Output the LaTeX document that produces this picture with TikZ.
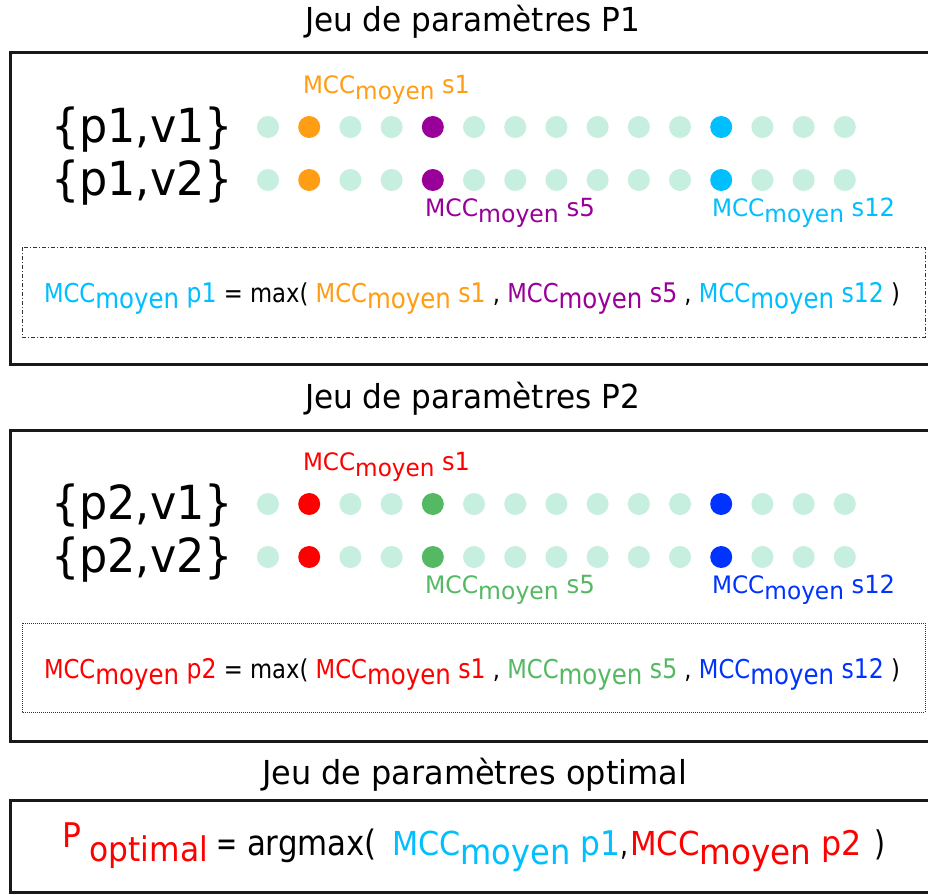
\documentclass[tikz,border=0pt]{standalone}
\usepackage{fontspec}
\setmainfont{DejaVu Sans}
\usepackage{graphicx}
\definecolor{mint}{RGB}{198,239,224}
\definecolor{orng}{RGB}{255,157,20}
\definecolor{purp}{RGB}{153,0,153}
\definecolor{lblue}{RGB}{0,191,255}
\definecolor{rd}{RGB}{255,0,0}
\definecolor{grn}{RGB}{85,185,100}
\definecolor{dblue}{RGB}{0,51,255}
\newcommand\fs[1]{\fontsize{#1}{#1}\selectfont}
\newcommand\mccx[5]{{\fs{#1}MCC}\raisebox{-#3pt}{\fs{#2}moyen}{\fs{#5}\ #4}}
\newcommand\fit[2]{\resizebox{#1pt}{\height}{#2}}
\tikzset{
  txt/.style={anchor=base west, inner sep=0pt, outer sep=0pt},
  dotnode/.style={circle, inner sep=0pt, minimum size=22pt, fill=#1},
  outerbox/.style={draw=black!90, line width=3pt},
  dashdotbox/.style={draw=black!80, line width=1pt, dash pattern=on 4pt off 2pt on 1pt off 2pt},
  dotbox/.style={draw=black!80, line width=1pt, dash pattern=on 1pt off 1pt},
}
\newcommand\dotrow[5]{%
  \foreach \i/\c in {0/mint,1/#3,2/mint,3/mint,4/#4,5/mint,6/mint,7/mint,8/mint,9/mint,10/mint,11/#5,12/mint,13/mint,14/mint}{%
    \node[dotnode=\c] (#1-\i) at ({268+41.2*\i},#2) {};
  }%
}
\begin{document}
\begin{tikzpicture}[x=1pt,y=-1pt]
\useasboundingbox (0,0) rectangle (928,894);
\clip (0,0) rectangle (928,894);
\fill[white] (0,0) rectangle (928,894);

% ---------- Box P1
\node[txt] (t1) at (305,31) {\fit{335}{\fs{33}Jeu de paramètres P1}};
\draw[outerbox] (10,52) rectangle (945,364);
\node[txt] (r11) at (51,142) {\fit{182}{\fs{47}\{p1,v1\}}};
\node[txt] (r12) at (51,195) {\fit{182}{\fs{47}\{p1,v2\}}};
\dotrow{a}{127}{orng}{purp}{lblue}
\dotrow{b}{180}{orng}{purp}{lblue}
\node[txt, text=orng] (la1) at (303,93) {\fit{167}{\mccx{24}{24}{6}{s1}{25}}};
\node[txt, text=purp] (la5) at (425,216) {\fit{170}{\mccx{24}{24}{6}{s5}{25}}};
\node[txt, text=lblue] (la12) at (712,216) {\fit{183}{\mccx{24}{24}{6}{s12}{25}}};
\draw[dashdotbox] (22,247) rectangle (925,337);
\node[txt] (f1) at (44,302) {\fit{856}{%
  \textcolor{lblue}{\mccx{26}{28}{6}{p1}{27}}{\fs{26} = max( }%
  \textcolor{orng}{\mccx{26}{28}{6}{s1}{27}}{\fs{26} , }%
  \textcolor{purp}{\mccx{26}{28}{6}{s5}{27}}{\fs{26} , }%
  \textcolor{lblue}{\mccx{26}{28}{6}{s12}{27}}{\fs{26} )}}};

% ---------- Box P2
\node[txt] (t2) at (305,408) {\fit{335}{\fs{33}Jeu de paramètres P2}};
\draw[outerbox] (10,430) rectangle (945,741);
\node[txt] (r21) at (51,519) {\fit{182}{\fs{47}\{p2,v1\}}};
\node[txt] (r22) at (51,572) {\fit{182}{\fs{47}\{p2,v2\}}};
\dotrow{c}{504}{rd}{grn}{dblue}
\dotrow{d}{557}{rd}{grn}{dblue}
\node[txt, text=rd] (lb1) at (303,470) {\fit{167}{\mccx{24}{24}{6}{s1}{25}}};
\node[txt, text=grn] (lb5) at (425,593) {\fit{170}{\mccx{24}{24}{6}{s5}{25}}};
\node[txt, text=dblue] (lb12) at (712,593) {\fit{183}{\mccx{24}{24}{6}{s12}{25}}};
\draw[dotbox] (22,623) rectangle (925,712);
\node[txt] (f2) at (44,678) {\fit{856}{%
  \textcolor{rd}{\mccx{26}{28}{6}{p2}{27}}{\fs{26} = max( }%
  \textcolor{rd}{\mccx{26}{28}{6}{s1}{27}}{\fs{26} , }%
  \textcolor{grn}{\mccx{26}{28}{6}{s5}{27}}{\fs{26} , }%
  \textcolor{dblue}{\mccx{26}{28}{6}{s12}{27}}{\fs{26} )}}};

% ---------- Box optimal
\node[txt] (t3) at (262,784) {\fit{425}{\fs{33}Jeu de paramètres optimal}};
\draw[outerbox] (10,800) rectangle (945,892);
\node[txt, text=rd] (po) at (62,847) {\fit{146}{{\fs{34}P}{\fs{30}\ }\raisebox{-14pt}{\fs{34}optimal}}};
\node[txt] (eq) at (216,855) {\fit{21}{\fs{34}=}};
\node[txt] (am) at (247,855) {\fit{130}{\fs{35}argmax(}};
\node[txt, text=lblue] (m1) at (392,855) {\fit{228}{\mccx{33}{35}{9}{p1}{34}}};
\node[txt] (cm) at (620,855) {\fit{8}{\fs{33},}};
\node[txt, text=rd] (m2) at (630,855) {\fit{232}{\mccx{33}{35}{9}{p2}{34}}};
\node[txt] (cp) at (874,855) {\fit{11}{\fs{34})}};
\end{tikzpicture}
\end{document}
